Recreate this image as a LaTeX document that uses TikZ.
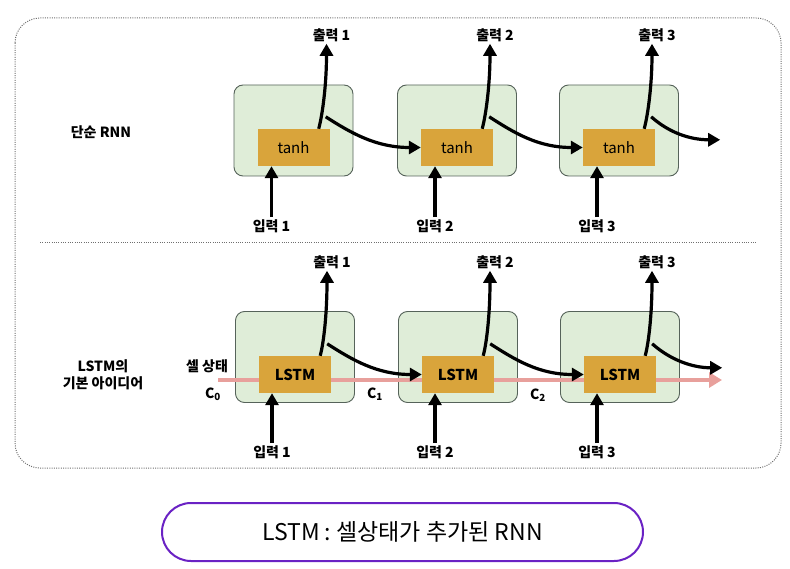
\documentclass[tikz,border=0pt]{standalone}
\usepackage{fontspec}
\setmainfont{Noto Sans CJK KR}
\usetikzlibrary{arrows.meta}

\definecolor{cellgreen}{HTML}{DFEDD8}
\definecolor{celledge}{HTML}{56635A}
\definecolor{gateorange}{HTML}{D9A43B}
\definecolor{statepink}{HTML}{E8A09C}
\definecolor{pillpurple}{HTML}{6A22C4}
\definecolor{framegray}{HTML}{6F6F6F}

\tikzset{
	cellbox/.style={draw=celledge, fill=cellgreen, line width=0.9pt, rounded corners=9pt, minimum width=119pt, minimum height=91pt},
	gatebox/.style={fill=gateorange, minimum width=72pt, minimum height=37pt, inner sep=0pt, font=\fontsize{15}{17}\selectfont},
	lbl/.style={font=\bfseries\fontsize{14}{16}\selectfont, inner sep=2pt},
	flow/.style={line width=3.2pt, -{Triangle[length=12pt,width=13pt]}},
	framedots/.style={framegray, line width=1pt, dash pattern=on 1pt off 1.3pt},
	pill/.style={draw=pillpurple, line width=2pt, rounded corners=29pt, minimum width=481pt, minimum height=58pt, font=\fontsize{23}{26}\selectfont}
}

\begin{document}
\begin{tikzpicture}[x=1pt, y=-1pt]
	\useasboundingbox (0,0) rectangle (790,569);

	% frame
	\draw[framedots, rounded corners=25pt] (15,18) rectangle (781,468);
	\draw[framedots] (40,243) -- (757,243);

	\node[lbl] (titleT) at (101,132) {단순 RNN};
	\node[lbl, align=center] (titleL) at (103,375) {LSTM의\\[1pt]기본 아이디어};

	% simple RNN
	\foreach \i/\x in {1/293.5,2/457,3/619} {
		\node[cellbox] (cellT\i) at (\x,130.5) {};
		\node[gatebox] (gateT\i) at (\x,147.5) {tanh};
		\node[lbl] (outT\i) at (\x+38,35) {출력 \i};
		\node[lbl] (inT\i) at (\x-22,226) {입력 \i};
		\coordinate (brT\i) at ([xshift=-4pt,yshift=12pt]gateT\i.north east);
		\draw[flow] ([xshift=-11pt]gateT\i.north east) .. controls +(4,-15) and +(0,40) .. ([xshift=-5pt]outT\i.south);
		\draw[flow] (inT\i.north) -- (inT\i.north |- gateT\i.south);
	}
	\draw[flow] (brT1) .. controls +(25,16) and +(-45,0) .. (gateT2.west);
	\draw[flow] (brT2) .. controls +(25,16) and +(-45,0) .. (gateT3.west);
	\coordinate (endT) at ([xshift=69pt,yshift=-23pt]brT3);
	\draw[flow] (brT3) .. controls +(18,16) and +(-30,0) .. (endT);

	% LSTM
	\foreach \i/\x in {1/295,2/458,3/620} {
		\node[cellbox] (cellL\i) at (\x,357) {};
	}
	\coordinate (stateS) at (218,380);
	\coordinate (stateE) at (722,380);
	\draw[statepink, line width=4.5pt, -{Triangle[length=13pt,width=15pt]}] (stateS) -- (stateE);
	\foreach \i/\x in {1/295,2/458,3/620} {
		\node[gatebox, font=\bfseries\fontsize{15}{17}\selectfont] (gateL\i) at (\x,374.5) {LSTM};
		\node[lbl] (outL\i) at (\x+37,262) {출력 \i};
		\node[lbl] (inL\i) at (\x-23,452) {입력 \i};
		\coordinate (brL\i) at ([xshift=-4pt,yshift=12pt]gateL\i.north east);
		\draw[flow] ([xshift=-11pt]gateL\i.north east) .. controls +(4,-15) and +(0,40) .. ([xshift=-5pt]outL\i.south);
		\draw[flow] (inL\i.north) -- (inL\i.north |- gateL\i.south);
	}
	\draw[flow] (brL1) .. controls +(25,16) and +(-45,0) .. (gateL2.west);
	\draw[flow] (brL2) .. controls +(25,16) and +(-45,0) .. (gateL3.west);
	\coordinate (endL) at ([xshift=70pt,yshift=-24pt]brL3);
	\draw[flow] (brL3) .. controls +(18,16) and +(-30,0) .. (endL);

	\node[lbl] (stateLbl) at (207,366) {셀 상태};
	\node[lbl] (c0) at (213,394) {C\textsubscript{0}};
	\node[lbl] (c1) at (375,394) {C\textsubscript{1}};
	\node[lbl] (c2) at (538,395) {C\textsubscript{2}};

	% caption
	\node[pill] (caption) at (402.5,532) {LSTM : 셀상태가 추가된 RNN};
\end{tikzpicture}
\end{document}
